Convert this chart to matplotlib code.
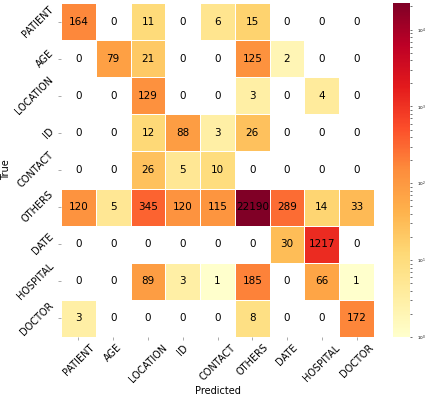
import numpy as np
import matplotlib
matplotlib.use("Agg")
import matplotlib.pyplot as plt
import seaborn as sns
from matplotlib.colors import LogNorm

labels = ["PATIENT", "AGE", "LOCATION", "ID", "CONTACT", "OTHERS", "DATE", "HOSPITAL", "DOCTOR"]
row_patient = [164, 0, 11, 0, 6, 15, 0, 0, 0]
row_age = [0, 79, 21, 0, 0, 125, 2, 0, 0]
row_location = [0, 0, 129, 0, 0, 3, 0, 4, 0]
row_id = [0, 0, 12, 88, 3, 26, 0, 0, 0]
row_contact = [0, 0, 26, 5, 10, 0, 0, 0, 0]
row_others = [120, 5, 345, 120, 115, 22190, 289, 14, 33]
row_date = [0, 0, 0, 0, 0, 0, 30, 1217, 0]
row_hospital = [0, 0, 89, 3, 1, 185, 0, 66, 1]
row_doctor = [3, 0, 0, 0, 0, 8, 0, 0, 172]

cm = np.array([row_patient, row_age, row_location, row_id, row_contact,
               row_others, row_date, row_hospital, row_doctor])

fig = plt.figure(figsize=(4.26, 3.98), dpi=100)
ax = fig.add_axes([61/426, 1 - 337/398, 313/426, 334/398])
cax = fig.add_axes([393/426, 1 - 337/398, 17/426, 334/398])

mask = cm == 0
sns.heatmap(cm, ax=ax, cbar_ax=cax, mask=mask, cmap="YlOrRd",
            norm=LogNorm(vmin=1, vmax=cm.max()), annot=False,
            linewidths=0.5, linecolor="white",
            xticklabels=labels, yticklabels=labels)

for i in range(cm.shape[0]):
    for j in range(cm.shape[1]):
        ax.text(j + 0.5, i + 0.5, str(cm[i, j]), ha="center", va="center",
                fontsize=7.5, color="black")

ax.set_xticklabels(labels, rotation=45, ha="center", fontsize=7)
ax.set_yticklabels(labels, rotation=45, ha="right", va="center", fontsize=7)
ax.tick_params(axis="both", length=2, width=0.5, color="#888888", pad=2)
ax.set_xlabel("Predicted", fontsize=7, labelpad=1)
ax.set_ylabel("True", fontsize=7, labelpad=2)

cax.tick_params(labelsize=3, length=1.5, width=0.4, which="both")
for s in cax.spines.values():
    s.set_visible(False)

fig.savefig("out.png", dpi=100)
